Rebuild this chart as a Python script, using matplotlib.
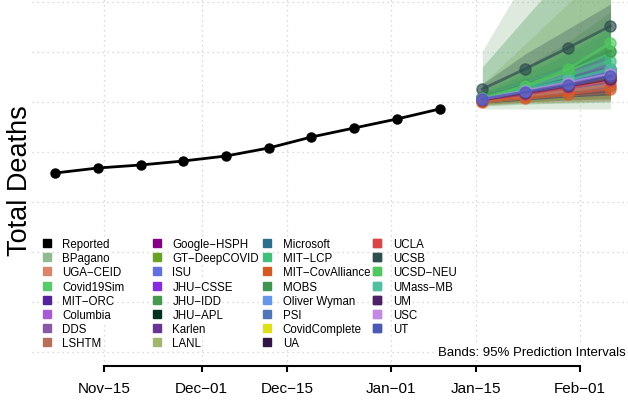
"""Reported deaths plus ensemble model forecasts with 95% bands."""

import datetime as dt

import matplotlib
matplotlib.use("Agg")
import matplotlib.dates as mdates
import matplotlib.pyplot as plt

plt.rcParams["font.family"] = ["Liberation Sans", "DejaVu Sans"]

M = "\u2212"

# reported weekly totals (thousands)
reported_dates = [dt.date(2020, 11, 7) + dt.timedelta(weeks=i) for i in range(10)]
reported = [258, 268, 274, 282, 292, 308, 330, 348, 366, 386]

forecast_dates = [dt.date(2021, 1, 16), dt.date(2021, 1, 23),
                  dt.date(2021, 1, 30), dt.date(2021, 2, 6)]

models = ["BPagano", f"UGA{M}CEID", "Covid19Sim", f"MIT{M}ORC", "Columbia",
          "DDS", "LSHTM", f"Google{M}HSPH", f"GT{M}DeepCOVID", "ISU",
          f"JHU{M}CSSE", f"JHU{M}IDD", f"JHU{M}APL", "Karlen", "LANL",
          "Microsoft", f"MIT{M}LCP", f"MIT{M}CovAlliance", "MOBS",
          "Oliver Wyman", "PSI", "CovidComplete", "UA", "UCLA", "UCSB",
          f"UCSD{M}NEU", f"UMass{M}MB", "UM", "USC", "UT"]

colors = ["#8FBC8F", "#DE8468", "#55CC66", "#5424A0", "#A95AD8",
          "#8A58A8", "#BA6E58", "#880088", "#66A31F", "#6270E0",
          "#8A2BE2", "#459A4E", "#00331F", "#6A3397", "#9FB86B",
          "#2A708D", "#3CC07C", "#D45A22", "#3E9650", "#6496EA",
          "#4F76B8", "#DEE014", "#301545", "#DA4646", "#2F4F4F",
          "#50C860", "#50C0A0", "#4E1F66", "#C28AE4", "#4C58B8"]

median = [[404, 416, 430, 444], [402, 412, 422, 434], [408, 430, 462, 500],
          [406, 420, 434, 450], [406, 422, 438, 456], [404, 418, 432, 448],
          [402, 412, 422, 432], [404, 416, 430, 446], [406, 420, 436, 452],
          [406, 420, 434, 450], [406, 422, 438, 454], [408, 426, 446, 466],
          [406, 422, 440, 458], [406, 420, 436, 452], [406, 422, 438, 456],
          [408, 426, 446, 466], [408, 428, 452, 482], [400, 408, 416, 426],
          [410, 434, 466, 502], [406, 422, 440, 460], [406, 422, 440, 458],
          [404, 418, 434, 448], [406, 420, 436, 452], [404, 416, 428, 442],
          [426, 466, 508, 552], [408, 432, 466, 518], [406, 424, 444, 466],
          [404, 418, 432, 446], [406, 422, 438, 456], [406, 420, 434, 452]]

lower = [[386, 386, 386, 386], [398, 402, 404, 408], [400, 408, 418, 430],
         [400, 408, 414, 420], [398, 404, 410, 416], [398, 404, 410, 416],
         [396, 400, 404, 406], [398, 404, 410, 414], [400, 406, 412, 418],
         [400, 408, 414, 420], [400, 408, 416, 422], [396, 400, 404, 406],
         [400, 408, 416, 424], [400, 408, 414, 420], [394, 400, 406, 410],
         [400, 410, 420, 428], [398, 406, 414, 420], [394, 398, 400, 402],
         [392, 396, 398, 400], [400, 408, 416, 424], [398, 404, 410, 416],
         [398, 406, 412, 418], [398, 404, 410, 414], [400, 406, 412, 418],
         [404, 424, 446, 466], [398, 408, 418, 428], [398, 408, 418, 426],
         [400, 408, 414, 420], [400, 410, 418, 426], [400, 408, 416, 422]]

upper = [[502, 646, 790, 934], [406, 424, 442, 462], [416, 456, 496, 540],
         [412, 434, 456, 480], [414, 440, 466, 496], [410, 432, 456, 480],
         [408, 424, 442, 460], [410, 430, 452, 476], [412, 436, 460, 488],
         [412, 432, 454, 478], [412, 436, 460, 486], [424, 470, 520, 580],
         [412, 436, 464, 492], [412, 434, 458, 484], [436, 516, 596, 676],
         [418, 446, 476, 508], [420, 456, 498, 548], [406, 420, 434, 452],
         [470, 568, 664, 762], [412, 438, 466, 496], [414, 442, 472, 502],
         [410, 432, 456, 480], [414, 438, 464, 492], [408, 426, 444, 466],
         [436, 496, 546, 596], [422, 466, 506, 556], [414, 442, 472, 506],
         [410, 430, 452, 474], [412, 436, 460, 488], [412, 434, 456, 482]]

tick_dates = [dt.date(2020, 11, 15), dt.date(2020, 12, 1), dt.date(2020, 12, 15),
              dt.date(2021, 1, 1), dt.date(2021, 1, 15), dt.date(2021, 2, 1)]
tick_labels = [f"Nov{M}15", f"Dec{M}01", f"Dec{M}15",
               f"Jan{M}01", f"Jan{M}15", f"Feb{M}01"]
grid_values = [-100, 0, 100, 200, 300, 400, 500, 600]

W, H = 628, 402
fig = plt.figure(figsize=(W / 100, H / 100), dpi=100)
ax = fig.add_axes([32 / W, 1 - 367 / H, 1 - 32 / W, 367 / H])

x0 = mdates.date2num(dt.date(2020, 11, 15))
ax.set_xlim(x0 - 11.8, mdates.date2num(dt.date(2021, 2, 1)) + 7.87)
ax.set_ylim(-128, 606)

grid_kw = dict(color="#cfcfcf", linewidth=0.9, dashes=(1, 3), zorder=0)
for d in tick_dates:
    ax.axvline(d, **grid_kw)
for v in grid_values:
    ax.axhline(v, **grid_kw)

for c, lo, hi in zip(colors, lower, upper):
    ax.fill_between(forecast_dates, lo, hi, color=c, alpha=0.3,
                    linewidth=0, zorder=1)
for c, med in zip(colors, median):
    ax.plot(forecast_dates, med, color=c, linewidth=2, marker="o",
            markersize=8, alpha=0.7, zorder=2)

ax.plot(reported_dates, reported, color="black", linewidth=2, marker="o",
        markersize=6.5, zorder=3)

for side in ["top", "right", "left"]:
    ax.spines[side].set_visible(False)
ax.spines["bottom"].set_bounds(mdates.date2num(tick_dates[0]),
                               mdates.date2num(tick_dates[-1]))
ax.spines["bottom"].set_linewidth(1.5)
ax.set_yticks([])
ax.set_xticks(tick_dates)
ax.set_xticklabels(tick_labels, fontsize=11)
ax.tick_params(axis="x", length=4, width=1.5, pad=7)

fig.text(20 / W, 1 - 181 / H, "Total Deaths", rotation=90, fontsize=19.5,
         ha="center", va="center")

ax.text(0.9966, 0.038, "Bands: 95% Prediction Intervals", transform=ax.transAxes,
        ha="right", va="center", fontsize=9.5,
        bbox=dict(facecolor="white", edgecolor="none", pad=1), zorder=5)

# legend: four fixed-width columns of eight rows
handles = [plt.Line2D([], [], linestyle="none", marker="s", markersize=5.5,
                      color="black")]
handles += [plt.Line2D([], [], linestyle="none", marker="s", markersize=5.5,
                       color=c) for c in colors]
labels = ["Reported"] + models
for col in range(4):
    sl = slice(col * 8, col * 8 + 8)
    leg = ax.legend(handles[sl], labels[sl], loc="upper left",
                    bbox_to_anchor=((40.75 + col * 110.3) / W, 1 - 239 / H),
                    bbox_transform=fig.transFigure, frameon=False,
                    fontsize=8.3, borderpad=0, borderaxespad=0,
                    handlelength=1.0, handletextpad=0.85, labelspacing=0.19)
    for t in leg.get_texts():
        t.set_bbox(dict(facecolor="white", edgecolor="none", pad=0.5))
    leg.set_zorder(4)
    ax.add_artist(leg)

fig.savefig("out.png", dpi=100)
